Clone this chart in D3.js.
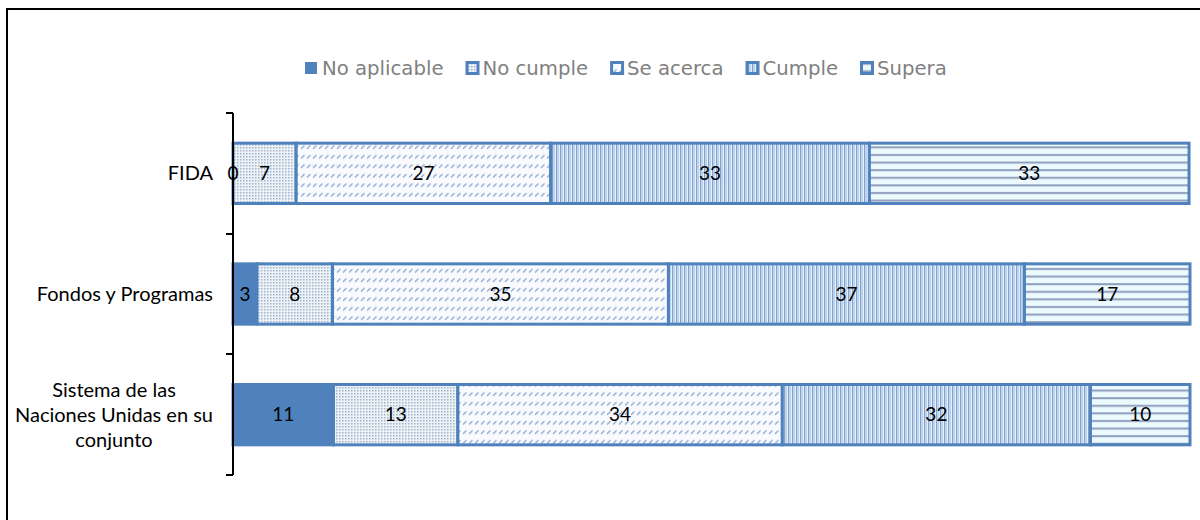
<!DOCTYPE html>
<html>
<head>
<meta charset="utf-8">
<script src="https://cdn.jsdelivr.net/npm/d3@7"></script>
<style>
  body { margin: 0; background: #fff; }
  svg { display: block; }
</style>
</head>
<body>
<div id="chart"></div>
<script>
// Categories (top to bottom) and the five rating series, in %
var categories = ["FIDA", "Fondos y Programas", "Sistema de las Naciones Unidas en su conjunto"];
var seriesNames = ["No aplicable", "No cumple", "Se acerca", "Cumple", "Supera"];
var noAplicable = [0, 2.5, 10.5];
var noCumple = [6.6, 7.9, 13.0];
var seAcerca = [26.6, 35.1, 33.9];
var cumple = [33.3, 37.2, 32.2];
var supera = [33.4, 17.3, 10.4];

var width = 1200, height = 520;
var blue = "#4f81bd";

var svg = d3.select("#chart").append("svg")
  .attr("width", width)
  .attr("height", height);

// outer chart frame
svg.append("rect")
  .attr("x", 7).attr("y", 9)
  .attr("width", 1210).attr("height", 530)
  .attr("fill", "none")
  .attr("stroke", "#000")
  .attr("stroke-width", 2);

// Fill patterns, one per series
var defs = svg.append("defs");

function pattern(id, w, h, bg) {
  var p = defs.append("pattern")
    .attr("id", id)
    .attr("patternUnits", "userSpaceOnUse")
    .attr("width", w).attr("height", h);
  p.append("rect").attr("width", w).attr("height", h).attr("fill", bg);
  return p;
}

// dotted
var pDot = pattern("pNoCumple", 3, 3, "#edf2f7");
pDot.append("rect").attr("x", 0).attr("y", 0).attr("width", 1.5).attr("height", 1.5).attr("fill", "#a3b5cc");

// short diagonal dashes
var pDash = pattern("pSeAcerca", 6, 9.5, "#f8fafd");
pDash.append("line")
  .attr("x1", 1).attr("y1", 6.5).attr("x2", 4.5).attr("y2", 3)
  .attr("stroke", "#8ca6d2").attr("stroke-width", 1.3);

// vertical stripes
var pV = pattern("pCumple", 4, 4, "#e3f0fd");
pV.append("rect").attr("x", 0).attr("width", 1.2).attr("height", 4).attr("fill", "#8d9fc0");
pV.append("rect").attr("x", 1.2).attr("width", 1.8).attr("height", 4).attr("fill", "#b6d3f3");

// horizontal lines
var pH = pattern("pSupera", 4, 7.6, "#ecfafd");
pH.append("rect").attr("y", 2).attr("width", 4).attr("height", 2).attr("fill", "#8e9ebd");

var fills = [blue, "url(#pNoCumple)", "url(#pSeAcerca)", "url(#pCumple)", "url(#pSupera)"];

// Scales
var x = d3.scaleLinear().domain([0, 100]).range([233, 1190]);
var y = d3.scaleBand().domain(categories).range([113, 475])
  .paddingInner(0.5).paddingOuter(0.25);

// Stack the series
var rows = categories.map(function(c, i) {
  return {
    cat: c,
    "No aplicable": noAplicable[i],
    "No cumple": noCumple[i],
    "Se acerca": seAcerca[i],
    "Cumple": cumple[i],
    "Supera": supera[i]
  };
});
var stacked = d3.stack().keys(seriesNames)(rows);

var fmt = d3.format(".0f");

var layers = svg.append("g").selectAll("g")
  .data(stacked)
  .join("g")
  .attr("fill", function(d, i) { return fills[i]; });

layers.selectAll("rect")
  .data(function(d) { return d; })
  .join("rect")
  .attr("x", function(d) { return x(d[0]); })
  .attr("y", function(d) { return y(d.data.cat); })
  .attr("width", function(d) { return x(d[1]) - x(d[0]); })
  .attr("height", y.bandwidth())
  .attr("stroke", blue)
  .attr("stroke-width", 3);

// Axis: vertical line with ticks on the band boundaries
var axis = svg.append("g");
var y0 = y.range()[0], y1 = y.range()[1];
axis.append("line")
  .attr("x1", x(0)).attr("x2", x(0))
  .attr("y1", y0).attr("y2", y1)
  .attr("stroke", "#000").attr("stroke-width", 2);
d3.range(categories.length + 1).forEach(function(i) {
  var ty = Math.round(y0 + i * (y1 - y0) / categories.length);
  axis.append("line")
    .attr("x1", x(0) - 7).attr("x2", x(0))
    .attr("y1", ty).attr("y2", ty)
    .attr("stroke", "#000").attr("stroke-width", 2);
});

// Data labels
var labels = svg.append("g")
  .attr("font-family", "Lato, 'Open Sans', sans-serif")
  .attr("font-size", 19)
  .attr("fill", "#000")
  .attr("text-anchor", "middle");
stacked.forEach(function(s) {
  s.forEach(function(d) {
    labels.append("text")
      .attr("x", (x(d[0]) + x(d[1])) / 2)
      .attr("y", y(d.data.cat) + y.bandwidth() / 2)
      .attr("dy", "0.35em")
      .text(fmt(d[1] - d[0]));
  });
});

// Category labels (long one wraps onto three centered lines)
var catWrap = {
  "Sistema de las Naciones Unidas en su conjunto": ["Sistema de las", "Naciones Unidas en su", "conjunto"]
};
var catG = svg.append("g")
  .attr("font-family", "Lato, 'Open Sans', sans-serif")
  .attr("font-size", 20)
  .attr("fill", "#000");
categories.forEach(function(c) {
  var cy = y(c) + y.bandwidth() / 2;
  var lines = catWrap[c];
  if (lines) {
    lines.forEach(function(l, k) {
      catG.append("text")
        .attr("x", 114)
        .attr("y", cy + (k - (lines.length - 1) / 2) * 25)
        .attr("dy", "0.35em")
        .attr("text-anchor", "middle")
        .text(l);
    });
  } else {
    catG.append("text")
      .attr("x", 213)
      .attr("y", cy)
      .attr("dy", "0.35em")
      .attr("text-anchor", "end")
      .text(c);
  }
});

// Legend
var legend = svg.append("g")
  .attr("font-family", "'DejaVu Sans', Verdana, sans-serif")
  .attr("font-size", 19.7)
  .attr("fill", "#808080");
var lx = 305;
seriesNames.forEach(function(name, i) {
  if (i === 0) {
    legend.append("rect")
      .attr("x", lx).attr("y", 62).attr("width", 12).attr("height", 12)
      .attr("fill", blue);
  } else {
    legend.append("rect")
      .attr("x", lx + 1.5).attr("y", 62.5).attr("width", 11).attr("height", 11)
      .attr("fill", fills[i])
      .attr("stroke", blue).attr("stroke-width", 3);
  }
  var t = legend.append("text")
    .attr("x", lx + 17)
    .attr("y", 68)
    .attr("dy", "0.35em")
    .text(name);
  lx += 17 + t.node().getComputedTextLength() + 22;
});
</script>
</body>
</html>
